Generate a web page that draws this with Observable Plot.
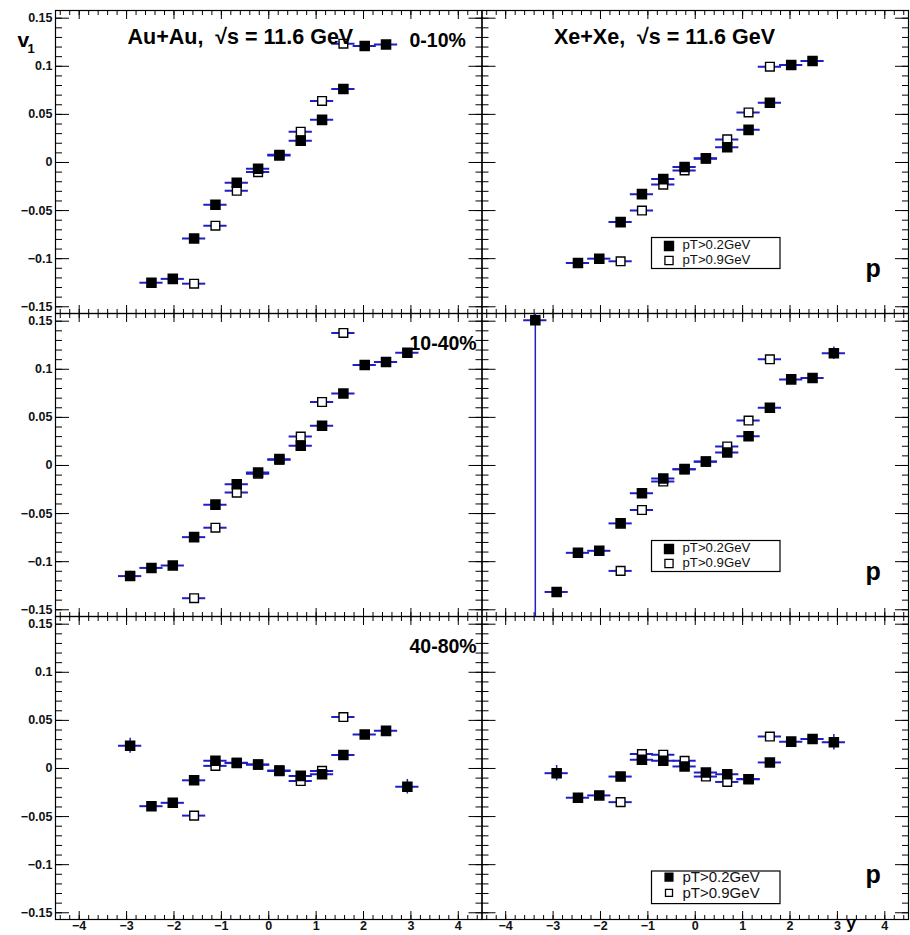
<!DOCTYPE html>
<html>
<head>
<meta charset="utf-8">
<script src="https://cdn.jsdelivr.net/npm/d3@7"></script>
<script src="https://cdn.jsdelivr.net/npm/@observablehq/plot@0.6"></script>
<style>
  html, body { margin: 0; padding: 0; background: #fff; }
  #chart { width: 910px; height: 935px; overflow: hidden; }
</style>
</head>
<body>
<div id="chart"></div>
<script>
// ---------------- data ----------------
const systems = ["Au+Au", "Xe+Xe"];
const titles = ["Au+Au,  √s = 11.6 GeV", "Xe+Xe,  √s = 11.6 GeV"];
const centralities = ["0-10%", "10-40%", "40-80%"];
const seriesLabels = ["pT>0.2GeV", "pT>0.9GeV"];
const particle = "p";
const xTitle = "y";

// rapidity bin centres and half width
const rapidity = [-3.375, -2.925, -2.475, -2.025, -1.575, -1.125, -0.675, -0.225, 0.225, 0.675, 1.125, 1.575, 2.025, 2.475, 2.925];
const binHalfWidth = 0.245;

// v1 values, null = no point
const auau_0_10_pt02  = [null, null, -0.125, -0.121, -0.079, -0.044, -0.021, -0.0065, 0.0073, 0.0225, 0.0443, 0.0765, 0.121, 0.1227, null];
const auau_0_10_pt09  = [null, null, null, null, -0.126, -0.0657, -0.0294, -0.010, 0.008, 0.032, 0.064, 0.1235, null, null, null];
const auau_10_40_pt02 = [null, -0.115, -0.1065, -0.104, -0.0745, -0.0407, -0.0195, -0.0073, 0.0066, 0.0205, 0.0414, 0.0748, 0.1044, 0.1075, 0.1173];
const auau_10_40_pt09 = [null, null, null, null, -0.138, -0.0647, -0.0282, -0.0085, 0.006, 0.030, 0.066, 0.1378, null, null, null];
const auau_40_80_pt02 = [null, 0.0237, -0.0392, -0.0357, -0.0123, 0.008, 0.0056, 0.0042, -0.0025, -0.0077, -0.006, 0.014, 0.0353, 0.0391, -0.0189];
const auau_40_80_pt09 = [null, null, null, null, -0.049, 0.0027, 0.006, 0.004, -0.002, -0.013, -0.0025, 0.0535, null, null, null];
const xexe_0_10_pt02  = [null, null, -0.1045, -0.100, -0.062, -0.0329, -0.0173, -0.0048, 0.0045, 0.0159, 0.0339, 0.0622, 0.1013, 0.1055, null];
const xexe_0_10_pt09  = [null, null, null, null, -0.1027, -0.050, -0.023, -0.0083, 0.004, 0.024, 0.052, 0.0996, null, null, null];
const xexe_10_40_pt02 = [0.151, -0.1315, -0.0908, -0.0887, -0.0602, -0.0289, -0.0135, -0.0038, 0.0042, 0.0136, 0.0303, 0.060, 0.0895, 0.0909, 0.1166];
const xexe_10_40_pt09 = [null, null, null, null, -0.1096, -0.0463, -0.0167, -0.004, 0.004, 0.0198, 0.0467, 0.1104, null, null, null];
const xexe_40_80_pt02 = [null, -0.0049, -0.0304, -0.028, -0.0084, 0.009, 0.008, 0.0021, -0.0042, -0.006, -0.0112, 0.0063, 0.0279, 0.0307, 0.0273];
const xexe_40_80_pt09 = [null, null, null, null, -0.035, 0.015, 0.0143, 0.008, -0.0084, -0.014, -0.011, 0.0332, null, null, null];

// statistical errors (pT>0.2GeV)
const auau_0_10_err  = [null, null, 0.003, 0.003, 0.003, 0.002, 0.002, 0.002, 0.002, 0.002, 0.002, 0.003, 0.003, 0.003, null];
const auau_10_40_err = [null, 0.005, 0.003, 0.003, 0.003, 0.002, 0.002, 0.002, 0.002, 0.002, 0.002, 0.003, 0.003, 0.003, 0.004];
const auau_40_80_err = [null, 0.0078, 0.004, 0.004, 0.003, 0.003, 0.003, 0.003, 0.003, 0.003, 0.003, 0.003, 0.004, 0.004, 0.0075];
const xexe_0_10_err  = [null, null, 0.003, 0.003, 0.003, 0.002, 0.002, 0.002, 0.002, 0.002, 0.002, 0.003, 0.003, 0.003, null];
const xexe_10_40_err = [0.5, 0.004, 0.003, 0.003, 0.003, 0.002, 0.002, 0.002, 0.002, 0.002, 0.002, 0.003, 0.003, 0.003, 0.0065];
const xexe_40_80_err = [null, 0.008, 0.004, 0.004, 0.003, 0.003, 0.003, 0.003, 0.003, 0.003, 0.003, 0.003, 0.004, 0.004, 0.008];
const pt09_err = 0.003;

// axis ticks
const xMajor = [-4, -3, -2, -1, 0, 1, 2, 3, 4];
const yMajor = [-0.15, -0.1, -0.05, 0, 0.05, 0.1, 0.15];
const xMinor = d3.range(-22, 23).map(k => k / 5);
const yMinor = d3.range(-15, 16).map(k => k / 100);

// ---------------- build records ----------------
const panels = [
  {sys: systems[0], cent: centralities[0], pt02: auau_0_10_pt02,  pt09: auau_0_10_pt09,  err: auau_0_10_err},
  {sys: systems[0], cent: centralities[1], pt02: auau_10_40_pt02, pt09: auau_10_40_pt09, err: auau_10_40_err},
  {sys: systems[0], cent: centralities[2], pt02: auau_40_80_pt02, pt09: auau_40_80_pt09, err: auau_40_80_err},
  {sys: systems[1], cent: centralities[0], pt02: xexe_0_10_pt02,  pt09: xexe_0_10_pt09,  err: xexe_0_10_err},
  {sys: systems[1], cent: centralities[1], pt02: xexe_10_40_pt02, pt09: xexe_10_40_pt09, err: xexe_10_40_err},
  {sys: systems[1], cent: centralities[2], pt02: xexe_40_80_pt02, pt09: xexe_40_80_pt09, err: xexe_40_80_err}
];
const filled = [], hollow = [];
for (const p of panels) {
  p.pt02.forEach((v, i) => { if (v !== null) filled.push({sys: p.sys, cent: p.cent, y: rapidity[i], v, err: p.err[i]}); });
  p.pt09.forEach((v, i) => { if (v !== null) hollow.push({sys: p.sys, cent: p.cent, y: rapidity[i], v, err: pt09_err}); });
}
const titleRows = systems.map((s, i) => ({sys: s, cent: centralities[0], label: titles[i]}));
const centRows = centralities.map(c => ({sys: systems[0], cent: c}));
const particleRows = centralities.map(c => ({sys: systems[1], cent: c}));
const legendUpper = centralities.slice(0, 2).map(c => ({sys: systems[1], cent: c}));
const legendLower = [{sys: systems[1], cent: centralities[2]}];
const cornerTL = [{sys: systems[0], cent: centralities[0]}];
const cornerBR = [{sys: systems[1], cent: centralities[2]}];

// ---------------- styles ----------------
const font = "'Liberation Sans', Arial, Helvetica, sans-serif";
const blue = "#1f1fc4";
const F = {fx: "sys", fy: "cent"};
const fmt = d => d === 0 ? "0" : d3.format("~g")(d);
const tickStyle = {stroke: "#000", fill: "none", label: null, facetAnchor: null, strokeWidth: 1};
const TL = {frameAnchor: "top-left", lineAnchor: "middle", textAnchor: "start"};

const errV = data => Plot.ruleX(data, {...F, x: "y", y1: d => d.v - d.err, y2: d => d.v + d.err, stroke: blue, strokeWidth: 1.5, clip: true});
const errH = data => Plot.ruleY(data, {...F, y: "v", x1: d => d.y - binHalfWidth, x2: d => d.y + binHalfWidth, stroke: blue, strokeWidth: 2, clip: true});

const legendItems = (rows, o) => [
  Plot.rect(rows, {...F, insetLeft: 170, insetRight: 128, insetTop: o.top, insetBottom: o.bottom, fill: "none", stroke: "#000", strokeWidth: 1.2}),
  Plot.dot(rows, {...F, frameAnchor: "top-left", dx: 187, dy: o.m1, symbol: "square", r: o.r, fill: "#000", stroke: "#000"}),
  Plot.dot(rows, {...F, frameAnchor: "top-left", dx: 187, dy: o.m2, symbol: "square", r: o.r * 0.92, fill: "#fff", stroke: "#000", strokeWidth: 1.3}),
  Plot.text(rows, {...F, ...TL, dx: 200.5, dy: o.t1, text: () => seriesLabels[0], fontSize: o.fs, fill: "#111"}),
  Plot.text(rows, {...F, ...TL, dx: 200.5, dy: o.t2, text: () => seriesLabels[1], fontSize: o.fs, fill: "#111"})
];

const chart = Plot.plot({
  width: 910,
  height: 935,
  marginLeft: 55,
  marginRight: 2,
  marginTop: 10,
  marginBottom: 16,
  style: {fontFamily: font, background: "#fff", color: "#000", overflow: "visible"},
  fx: {domain: systems, paddingInner: 0, paddingOuter: 0, round: false, axis: null, label: null},
  fy: {domain: centralities, paddingInner: 0, paddingOuter: 0, round: false, axis: null, label: null},
  x: {domain: [-4.5, 4.5]},
  y: {domain: [-0.157, 0.158]},
  marks: [
    // inward ticks on all four sides of every pad
    Plot.axisY(yMajor, {anchor: "left", tickSize: -14, ...tickStyle}),
    Plot.axisY(yMinor, {anchor: "left", tickSize: -7, ...tickStyle}),
    Plot.axisY(yMajor, {anchor: "right", tickSize: -14, ...tickStyle}),
    Plot.axisY(yMinor, {anchor: "right", tickSize: -7, ...tickStyle}),
    Plot.axisX(xMajor, {anchor: "bottom", tickSize: -8, ...tickStyle}),
    Plot.axisX(xMinor, {anchor: "bottom", tickSize: -4, ...tickStyle}),
    Plot.axisX(xMajor, {anchor: "top", tickSize: -8, ...tickStyle}),
    Plot.axisX(xMinor, {anchor: "top", tickSize: -4, ...tickStyle}),
    // tick labels
    Plot.axisY(yMajor, {anchor: "left", tickSize: 0, tickPadding: 3, tickFormat: fmt, label: null, fontSize: 12.5, fontWeight: "bold", fill: "#111"}),
    Plot.axisX(xMajor, {anchor: "bottom", tickSize: 0, tickPadding: 1.5, tickFormat: fmt, label: null, fontSize: 12.5, fontWeight: "bold", fill: "#111"}),
    Plot.frame({stroke: "#000", strokeWidth: 1.2}),
    // data: pT > 0.9 GeV (open) then pT > 0.2 GeV (filled)
    errV(hollow),
    errH(hollow),
    Plot.dot(hollow, {...F, x: "y", y: "v", symbol: "square", r: 4.9, fill: "#fff", stroke: "#000", strokeWidth: 1.4, clip: true}),
    errV(filled),
    errH(filled),
    Plot.dot(filled, {...F, x: "y", y: "v", symbol: "square", r: 5.1, fill: "#000", stroke: "#000", clip: true}),
    // annotations
    Plot.text(titleRows, {...F, ...TL, text: "label", dx: 72, dy: 27, fontSize: 21.5, fontWeight: "bold"}),
    Plot.text(centRows, {...F, ...TL, text: "cent", dx: 354, dy: 30, fontSize: 19.5, fontWeight: "bold"}),
    Plot.text(particleRows, {...F, ...TL, text: () => particle, dx: 383.5, dy: 258.5, fontSize: 25, fontWeight: "bold"}),
    ...legendItems(legendUpper, {top: 227.5, bottom: 44.5, m1: 235.5, m2: 250, t1: 234.5, t2: 249, fs: 13.2, r: 5}),
    ...legendItems(legendLower, {top: 255, bottom: 15.4, m1: 260.6, m2: 276.3, t1: 260.5, t2: 276.5, fs: 15, r: 4.3}),
    Plot.text(cornerTL, {...F, ...TL, text: () => "v", dx: -38, dy: 30, fontSize: 21, fontWeight: "bold"}),
    Plot.text(cornerTL, {...F, ...TL, text: () => "1", dx: -28, dy: 38, fontSize: 13, fontWeight: "bold"}),
    Plot.text(cornerBR, {...F, text: () => xTitle, frameAnchor: "bottom-left", dx: 364.5, dy: -3, lineAnchor: "top", textAnchor: "start", fontSize: 17, fontWeight: "bold"})
  ]
});
document.getElementById("chart").appendChild(chart);
</script>
</body>
</html>
